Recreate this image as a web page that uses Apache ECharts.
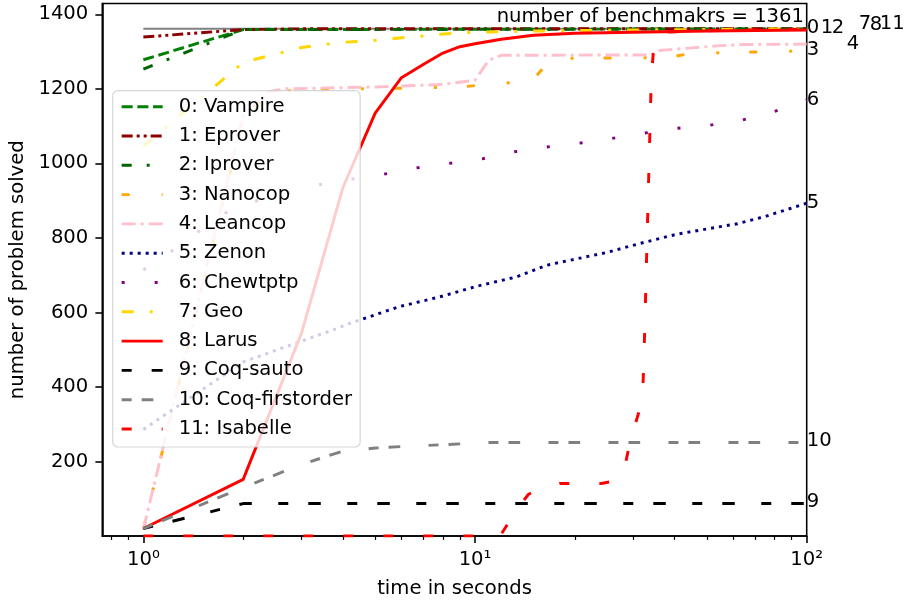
<!DOCTYPE html>
<html><head><meta charset="utf-8">
<script src="https://cdn.jsdelivr.net/npm/echarts@6/dist/echarts.min.js"></script>
<style>html,body{margin:0;padding:0;background:#fff}#c{width:904px;height:605px}</style>
</head><body><div id="c"></div>
<script>
// ---- data (time in seconds, number solved) ----
const legendNames = ['0: Vampire','1: Eprover','2: Iprover','3: Nanocop','4: Leancop','5: Zenon','6: Chewtptp','7: Geo','8: Larus','9: Coq-sauto','10: Coq-firstorder','11: Isabelle'];
const vampireT = [1, 2, 100];
const vampireV = [1278, 1359, 1361];
const eproverT = [1, 2, 3, 100];
const eproverV = [1339, 1359, 1361, 1361];
const iproverT = [1, 2, 100];
const iproverV = [1253, 1359, 1361];
const nanocopT = [1, 2, 2.4, 3, 5.5, 9, 12, 14.8, 16.3, 17.8, 38, 45, 100];
const nanocopV = [18, 1118, 1190, 1198, 1201, 1205, 1215, 1220, 1262, 1282, 1284, 1295, 1302];
const leancopT = [1, 2, 2.36, 2.7, 5, 8, 10, 11, 12, 34, 36, 45, 55, 65, 100];
const leancopV = [18, 1129, 1192, 1200, 1205, 1212, 1223, 1277, 1290, 1291, 1303, 1310, 1316, 1319, 1320];
const zenonT = [1, 2, 3.73, 4.2, 5.94, 7.85, 10.2, 13.3, 16.5, 20.3, 25, 31.4, 40.6, 50, 61.9, 75.9, 100];
const zenonV = [286, 467, 553, 571, 616, 642, 671, 695, 727, 744, 761, 785, 810, 824, 838, 859, 893];
const chewT = [1, 1.22, 1.46, 1.76, 2, 3.36, 4.26, 5.32, 6.69, 8.35, 10.5, 13.1, 16.5, 20.6, 25.9, 32.3, 40.6, 50.7, 63.8, 78.6, 100];
const chewV = [714, 765, 816, 866, 890, 942, 958, 971, 988, 1000, 1012, 1031, 1044, 1054, 1067, 1081, 1094, 1102, 1116, 1137, 1170];
const geoT = [1, 2, 3, 4, 5, 6, 7, 8, 9, 10, 15, 30, 100];
const geoV = [1046, 1271, 1311, 1325, 1330, 1337, 1342, 1347, 1350, 1352, 1355, 1358, 1361];
const larusT = [1, 2, 3, 4, 5, 6, 7, 8, 9, 10, 12, 15, 20, 30, 50, 100];
const larusV = [20, 152, 545, 936, 1135, 1230, 1266, 1296, 1313, 1321, 1333, 1344, 1349, 1352, 1355, 1358];
const sautoT = [1, 2, 100];
const sautoV = [20, 87, 87];
const firstT = [1, 2, 3, 4, 5, 6, 8, 10, 11, 100];
const firstV = [20, 130, 192, 228, 236, 240, 245, 249, 251, 251];
const isaT = [1, 11.9, 13.5, 14.5, 16.5, 18, 24, 26.5, 27.4, 28.3, 29.3, 30, 32, 32.5, 33, 33.5, 34, 34.5, 35, 37, 50, 100];
const isaV = [0, 0, 77, 112, 133, 141, 141, 148, 157, 187, 250, 282, 366, 560, 790, 1010, 1230, 1300, 1340, 1352, 1356, 1360];
const benchT = [1, 100];
const benchV = [1361, 1361];
const benchText = 'number of benchmakrs = 1361';
const yTicks = [200, 400, 600, 800, 1000, 1200, 1400];
const xMajor = [1, 10, 100];
const xMinor = [0.8, 0.9, 2, 3, 4, 5, 6, 7, 8, 9, 20, 30, 40, 50, 60, 70, 80, 90];

const pairs = (t, v) => t.map((x, i) => [x, v[i]]);
const FONT = 'DejaVu Sans';
const FS = 19.6;
const LW = 2.94;

const specs = [
  {t: vampireT, v: vampireV, color: '#008000', dash: [11, 4.7], off: [0, -1]},
  {t: eproverT, v: eproverV, color: '#8b0000', dash: [11, 4, 3, 4, 3, 4], off: [14, -1]},
  {t: iproverT, v: iproverV, color: '#006400', dash: [10, 15, 3, 15], off: [25, -1]},
  {t: nanocopT, v: nanocopV, color: '#ffa500', dash: [8, 32, 3, 30], off: [0, -1]},
  {t: leancopT, v: leancopV, color: '#ffc0cb', dash: [14, 5, 3, 5], off: [40, 0]},
  {t: zenonT, v: zenonV, color: '#000080', dash: [3, 5], off: [0, -0.5]},
  {t: chewT, v: chewV, color: '#800080', dash: [3, 30], off: [0, 0]},
  {t: geoT, v: geoV, color: '#ffd700', dash: [12, 16, 3, 16], off: [52, -4.5]},
  {t: larusT, v: larusV, color: '#ff0000', dash: 'solid', off: [63, -5.5]},
  {t: sautoT, v: sautoV, color: '#000000', dash: [10, 20, 12.5, 26.5], off: [0, -1.6]},
  {t: firstT, v: firstV, color: '#808080', dash: [10, 10, 11.7, 28.3], off: [0, -1.4]},
  {t: isaT, v: isaV, color: '#ff0000', dash: [10, 30], off: [73, -5]}
];

const series = [{
  type: 'line', name: 'bench', data: pairs(benchT, benchV), symbol: 'none', silent: true,
  lineStyle: {color: '#808080', width: 2}, itemStyle: {color: '#808080'}, z: 1
}];
specs.forEach((s, i) => {
  series.push({
    type: 'line', name: legendNames[i], data: pairs(s.t, s.v),
    symbol: 'none', showSymbol: false, silent: true,
    color: s.color,
    lineStyle: {color: s.color, width: LW, type: s.dash, cap: 'butt'},
    itemStyle: {color: s.color},
    endLabel: {show: true, formatter: String(i), color: '#000', fontSize: FS, fontFamily: FONT,
      distance: 0, offset: s.off}
  });
});

const chart = echarts.init(document.getElementById('c'), null, {renderer: 'canvas'});
chart.setOption({
  animation: false,
  backgroundColor: '#fff',
  grid: {left: 102.3, top: 3.5, width: 704.4, height: 532.5, show: true,
    borderColor: '#000', borderWidth: 1.57, backgroundColor: 'transparent', outerBoundsMode: 'none'},
  legend: {
    data: legendNames, orient: 'vertical', left: 112.7, top: 90.7,
    padding: [6, 8, 8, 7.5], itemGap: 9.3, itemWidth: 41, itemHeight: 20,
    backgroundColor: 'rgba(255,255,255,0.8)', borderColor: 'rgba(204,204,204,0.8)', borderWidth: 1.2, borderRadius: 5,
    formatter: name => '{t|' + name + '}',
    textStyle: {fontSize: FS, fontFamily: FONT, color: '#000',
      rich: {t: {fontSize: FS, fontFamily: FONT, color: '#000', padding: [0, 0, 0, 11]}}},
    lineStyle: {width: LW},
    itemStyle: {opacity: 0, borderWidth: 0},
    selectedMode: false
  },
  xAxis: [{
    type: 'log', logBase: 10, min: 0.752, max: 100,
    name: 'time in seconds', nameLocation: 'middle', nameGap: 43,
    nameTextStyle: {fontSize: FS, fontFamily: FONT, color: '#000'},
    axisLine: {show: true, onZero: false, lineStyle: {color: '#000', width: 1.57}},
    axisTick: {show: true, length: 6.9, lineStyle: {color: '#000', width: 1.57}, customValues: xMajor},
    axisLabel: {customValues: xMajor, margin: 14, fontSize: FS, fontFamily: FONT, color: '#000',
      formatter: v => '10' + ['\u2070', '\u00b9', '\u00b2'][Math.round(Math.log10(v))]},
    splitLine: {show: false}, minorTick: {show: false}
  }, {
    type: 'log', logBase: 10, min: 0.752, max: 100, position: 'bottom', gridIndex: 0,
    axisLine: {show: false},
    axisTick: {show: true, length: 3.9, lineStyle: {color: '#000', width: 1.2}, customValues: xMinor},
    axisLabel: {show: false}, splitLine: {show: false}
  }],
  yAxis: {
    type: 'value', min: 0, max: 1429,
    name: 'number of problem solved', nameLocation: 'middle', nameGap: 64, nameRotate: 90,
    nameTextStyle: {fontSize: FS, fontFamily: FONT, color: '#000'},
    axisLine: {show: true, onZero: false, lineStyle: {color: '#000', width: 1.57}},
    axisTick: {show: true, length: 6.9, lineStyle: {color: '#000', width: 1.57}, customValues: yTicks},
    axisLabel: {customValues: yTicks, margin: 14, fontSize: FS, fontFamily: FONT, color: '#000',
      formatter: v => String(v)},
    splitLine: {show: false}
  },
  graphic: [{
    type: 'text', x: 804, y: 16.5, silent: true, z: 10,
    style: {text: benchText, align: 'right', verticalAlign: 'middle', fontSize: FS, fontFamily: FONT, fill: '#000'}
  }],
  series: series
});
</script></body></html>
